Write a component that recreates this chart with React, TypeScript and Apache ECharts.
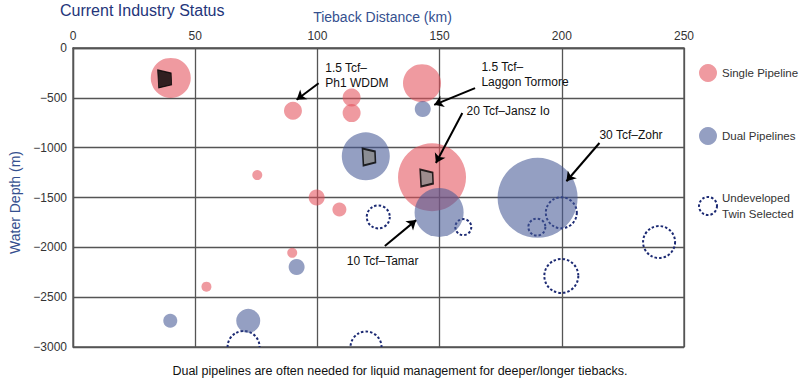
import React, { useEffect, useRef } from "react";
import * as echarts from "echarts";

// [tieback distance km, water depth m, bubble radius]
const singlePipeline: number[][] = [
  [40, -300, 20],
  [90, -630, 9],
  [114, -497, 9],
  [114, -653, 9],
  [142.8, -353, 19],
  [146.9, -1297, 34],
  [75.4, -1275, 5],
  [99.7, -1500, 8],
  [109, -1620, 7],
  [89.7, -2055, 5],
  [54.6, -2395, 5],
];
const dualPipelines: number[][] = [
  [143.1, -613, 8],
  [119.8, -1087, 24],
  [149.8, -1650, 24.5],
  [190.1, -1503, 40],
  [91.5, -2197, 8],
  [39.8, -2737, 7],
  [71.7, -2737, 12],
];
const undevelopedTwin: number[][] = [
  [69.8, -3000, 16],
  [119.9, -3000, 15.5],
  [124.9, -1695, 11.5],
  [159.7, -1797, 8],
  [189.8, -1797, 8.5],
  [199.8, -1653, 15.5],
  [239.8, -1947, 16],
  [199.8, -2287, 17],
];
const blackMarker: number[][] = [[37.5, -310]];
const grayMarkers: number[][] = [
  [121.1, -1093],
  [144.7, -1305],
];
// annotation text anchors (left, middle) and arrows [from, to]
const annotationLabels: [number, number, string][] = [
  [103.2, -280, "1.5 Tcf–\nPh1 WDDM"],
  [167.1, -270, "1.5 Tcf–\nLaggon Tormore"],
  [161.0, -630, "20 Tcf–Jansz Io"],
  [112.0, -2137, "10 Tcf–Tamar"],
  [215.4, -870, "30 Tcf–Zohr"],
];
const annotationArrows: number[][][] = [
  [[100.5, -353], [91.5, -520]],
  [[164.5, -403], [147.8, -570]],
  [[159.3, -653], [148.5, -1153]],
  [[127.6, -1987], [140.4, -1727]],
  [[215.4, -953], [201.9, -1337]],
];
const xTicks = { min: 0, max: 250, interval: 50 };
const yTicks = { min: -3000, max: 0, interval: 500 };

const FONT = "'Liberation Sans', Arial, sans-serif";
const RED = "rgba(228,80,90,0.72)";
const BLUE = "rgba(70,88,150,0.72)";
const NAVY = "#1c2a73";
const GRID = "#555";

export default function App() {
  const ref = useRef<HTMLDivElement>(null);
  useEffect(() => {
    if (!ref.current) return;
    const chart = echarts.init(ref.current, undefined, { renderer: "svg" });
    const trapezoid = "path://M0,0 L13,3 L13.5,14 L1,17 Z";
    chart.setOption({
      animation: false,
      textStyle: { fontFamily: FONT },
      title: {
        text: "Current Industry Status",
        left: 55,
        top: -3,
        textStyle: { fontSize: 16, fontWeight: "normal", color: "#24357a", fontFamily: FONT },
      },
      legend: {
        orient: "vertical",
        left: 693,
        top: 59,
        itemWidth: 18,
        itemHeight: 18,
        itemGap: 45,
        textStyle: { fontSize: 11.5, color: "#333", lineHeight: 16, fontFamily: FONT },
        formatter: (n: string) => (n === "Undeveloped Twin Selected" ? "Undeveloped\nTwin Selected" : n),
        data: [
          { name: "Single Pipeline", icon: "circle" },
          { name: "Dual Pipelines", icon: "circle" },
          {
            name: "Undeveloped Twin Selected",
            icon: "circle",
            itemStyle: { color: "#fff", borderColor: NAVY, borderWidth: 2, borderType: [2.5, 2] },
          },
        ],
      },
      grid: {
        left: 67,
        right: 116,
        top: 48,
        bottom: 36,
        show: true,
        borderColor: GRID,
        borderWidth: 1.3,
      },
      xAxis: {
        type: "value",
        position: "top",
        ...xTicks,
        name: "Tieback Distance (km)",
        nameLocation: "middle",
        nameGap: 24,
        nameTextStyle: { fontSize: 14, color: "#35508f", padding: [0, 0, 0, 8], fontFamily: FONT },
        axisLine: { show: true, lineStyle: { color: GRID, width: 1.3 } },
        axisTick: { show: false },
        axisLabel: { fontSize: 12, color: "#333", margin: 6, fontFamily: FONT },
        splitLine: { show: true, lineStyle: { color: GRID, width: 1.3 } },
      },
      yAxis: {
        type: "value",
        ...yTicks,
        name: "Water Depth (m)",
        nameLocation: "middle",
        nameGap: 51,
        nameTextStyle: { fontSize: 14, color: "#35508f", padding: [0, 10, 0, 0], fontFamily: FONT },
        axisLine: { show: true, lineStyle: { color: GRID, width: 1.3 } },
        axisTick: { show: false },
        axisLabel: {
          fontSize: 12,
          color: "#333",
          margin: 6,
          fontFamily: FONT,
          formatter: (v: number) => String(v).replace("-", "−"),
        },
        splitLine: { show: true, lineStyle: { color: GRID, width: 1.3 } },
      },
      series: [
        {
          name: "Single Pipeline",
          type: "scatter",
          data: singlePipeline,
          symbol: "circle",
          symbolSize: (v: number[]) => v[2] * 2,
          itemStyle: { color: RED },
          silent: true,
        },
        {
          name: "Dual Pipelines",
          type: "scatter",
          data: dualPipelines,
          symbol: "circle",
          symbolSize: (v: number[]) => v[2] * 2,
          itemStyle: { color: BLUE },
          silent: true,
        },
        {
          name: "Undeveloped Twin Selected",
          type: "custom",
          clip: true,
          data: undevelopedTwin,
          encode: { x: 0, y: 1 },
          itemStyle: { color: NAVY },
          renderItem: (_p: any, api: any) => {
            const c = api.coord([api.value(0), api.value(1)]);
            return {
              type: "circle",
              shape: { cx: c[0], cy: c[1], r: api.value(2) },
              style: { fill: "none", stroke: NAVY, lineWidth: 2, lineDash: [2.5, 2] },
            };
          },
        },
        {
          name: "Producing",
          type: "scatter",
          data: blackMarker,
          symbol: trapezoid,
          symbolSize: [14, 18],
          itemStyle: { color: "#000", borderColor: "#000", borderWidth: 1 },
          silent: true,
        },
        {
          name: "Hub",
          type: "scatter",
          data: grayMarkers,
          symbol: trapezoid,
          symbolSize: [13, 17],
          itemStyle: { color: "#888", borderColor: "#000", borderWidth: 1.8 },
          silent: true,
        },
        {
          name: "Annotations",
          type: "custom",
          clip: false,
          silent: true,
          data: annotationLabels,
          encode: { x: 0, y: 1 },
          renderItem: (params: any, api: any) => {
            const c = api.coord([api.value(0), api.value(1)]);
            return {
              type: "text",
              x: c[0],
              y: c[1],
              style: {
                text: annotationLabels[params.dataIndex][2],
                fontSize: 12,
                lineHeight: 15,
                fill: "#111",
                align: "left",
                verticalAlign: "middle",
                fontFamily: FONT,
              },
            };
          },
          markLine: {
            silent: true,
            symbol: ["none", "arrow"],
            symbolSize: 9,
            label: { show: false },
            lineStyle: { color: "#000", width: 2, type: "solid" },
            data: annotationArrows.map((a) => [{ coord: a[0] }, { coord: a[1] }]),
          },
        },
      ],
      graphic: [
        {
          type: "text",
          left: "center",
          top: 364,
          style: {
            text: "Dual pipelines are often needed for liquid management for deeper/longer tiebacks.",
            fontSize: 12.5,
            fill: "#111",
            fontFamily: FONT,
          },
        },
      ],
    });
    return () => chart.dispose();
  }, []);
  return <div ref={ref} style={{ position: "absolute", left: 0, top: 0, width: 800, height: 383 }} />;
}
